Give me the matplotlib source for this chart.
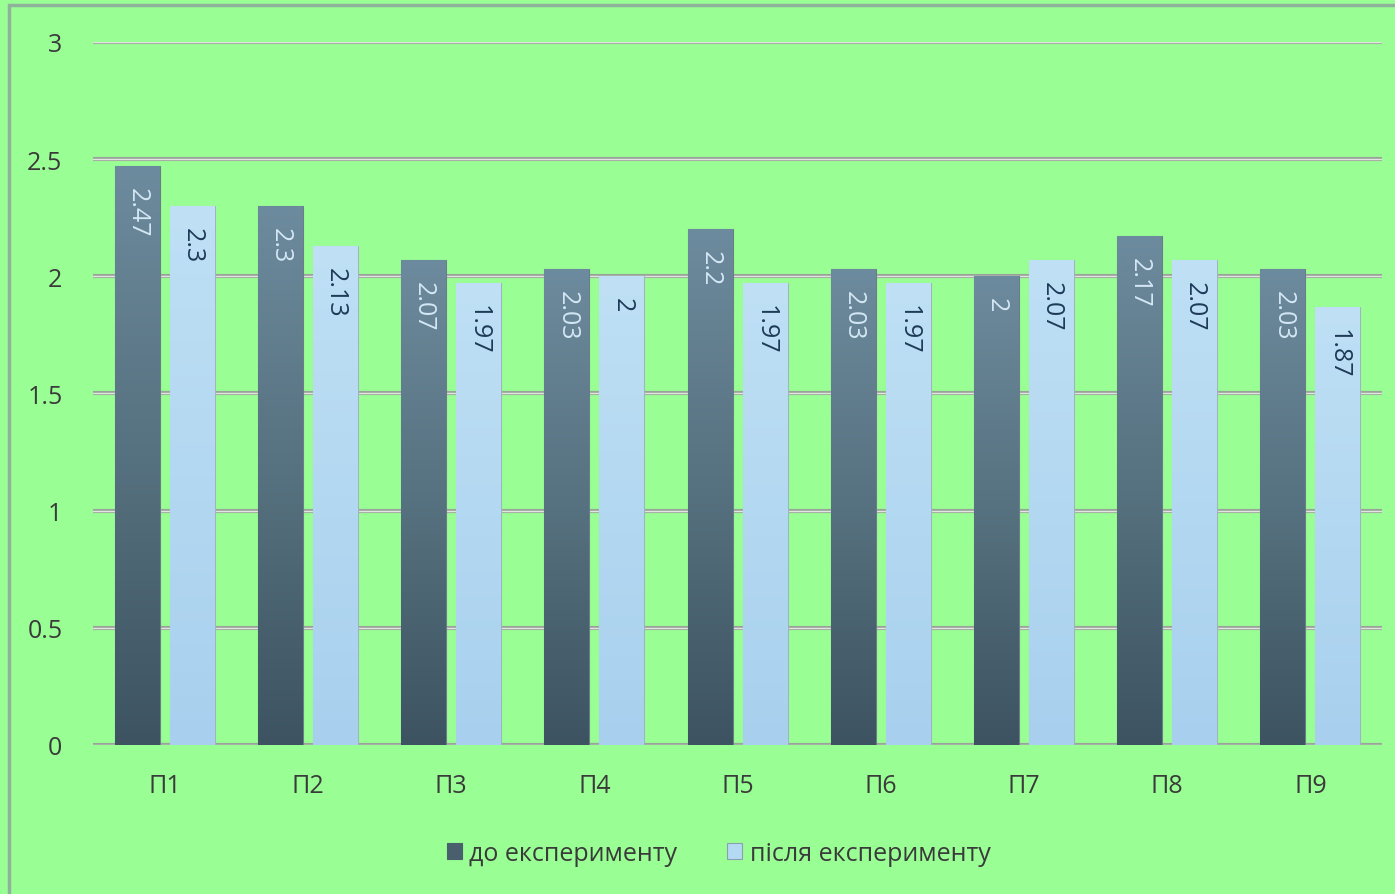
import matplotlib.pyplot as plt
import numpy as np
from matplotlib.colors import LinearSegmentedColormap
from matplotlib.patches import Rectangle

categories = ['П1', 'П2', 'П3', 'П4', 'П5', 'П6', 'П7', 'П8', 'П9']
before = [2.47, 2.3, 2.07, 2.03, 2.2, 2.03, 2, 2.17, 2.03]
after = [2.3, 2.13, 1.97, 2, 1.97, 1.97, 2.07, 2.07, 1.87]
before_labels = ['2.47', '2.3', '2.07', '2.03', '2.2', '2.03', '2', '2.17', '2.03']
after_labels = ['2.3', '2.13', '1.97', '2', '1.97', '1.97', '2.07', '2.07', '1.87']
series_names = ['до експерименту', 'після експерименту']

plt.rcParams['font.family'] = ['Open Sans', 'DejaVu Sans']
bg = '#99ff94'

fig = plt.figure(figsize=(13.95, 8.95), dpi=100, facecolor=bg)
ax = fig.add_axes([0.0667, 0.1665, 0.924, 0.7855])
ax.set_facecolor(bg)

# outer chart frame
fig.patches.append(Rectangle((9/1395, -0.05), 1.1, 0.05 + 889/895, transform=fig.transFigure,
                             fill=False, edgecolor='#8fb39a', lw=2.5, zorder=0))

x = np.arange(len(categories))
w = 0.314
off = 0.192

for yv in np.arange(0, 3.01, 0.5):
    ax.axhline(yv, color='#9aa39a', lw=3, zorder=1)
    ax.axhline(yv, color='#dfe5df', lw=1.0, zorder=1.1)

dark_cmap = LinearSegmentedColormap.from_list('d', ['#3d5361', '#56717f', '#6d8b9e'])
light_cmap = LinearSegmentedColormap.from_list('l', ['#a8d0ee', '#b3d8f1', '#bfe0f5'])
grad = np.linspace(0, 1, 256).reshape(-1, 1)

bars_b = ax.bar(x - off, before, w, color='#55707f', edgecolor='#6a7d88', lw=0.8, zorder=2,
                label=series_names[0])
bars_a = ax.bar(x + off, after, w, color='#b4d9f2', edgecolor='#9fb3c0', lw=0.8, zorder=2,
                label=series_names[1])

for bars, cmap in [(bars_b, dark_cmap), (bars_a, light_cmap)]:
    for b in bars:
        x0 = b.get_x()
        h = b.get_height()
        im = ax.imshow(grad, extent=[x0, x0 + b.get_width(), 0, h], origin='lower',
                       aspect='auto', cmap=cmap, zorder=2.5)
        im.set_clip_path(b)

for b, t in zip(bars_b, before_labels):
    ax.annotate(t, (b.get_x() + b.get_width() / 2, b.get_height()), xytext=(0, -15),
                textcoords='offset points', rotation=270, ha='center', va='top',
                fontsize=18, color='#d3e7f5', zorder=4)
for b, t in zip(bars_a, after_labels):
    ax.annotate(t, (b.get_x() + b.get_width() / 2, b.get_height()), xytext=(0, -15),
                textcoords='offset points', rotation=270, ha='center', va='top',
                fontsize=18, color='#1e3a58', zorder=4)

ax.set_xlim(-0.5, 8.5)
ax.set_ylim(0, 3)
ax.set_yticks(np.arange(0, 3.01, 0.5))
ax.set_yticklabels(['0', '0.5', '1', '1.5', '2', '2.5', '3'])
ax.set_xticks(x)
ax.set_xticklabels(categories)
ax.tick_params(axis='both', length=0, labelsize=18, colors='#3a3a3a')
ax.tick_params(axis='y', pad=22)
ax.tick_params(axis='x', pad=20)
for s in ax.spines.values():
    s.set_visible(False)

leg = fig.legend(handles=[bars_b, bars_a], labels=series_names, loc='center',
                 bbox_to_anchor=(0.515, 0.045), ncol=2, frameon=False, fontsize=18,
                 handlelength=0.6, handleheight=0.6, handletextpad=0.3, columnspacing=2.0,
                 labelcolor='#3a3a3a')
leg.legend_handles[0].set_color('#4a5f6e')
leg.legend_handles[1].set_color('#b4d9f2')
leg.legend_handles[1].set_edgecolor('#8aa0b0')

fig.savefig('out.png', dpi=100, facecolor=bg)
